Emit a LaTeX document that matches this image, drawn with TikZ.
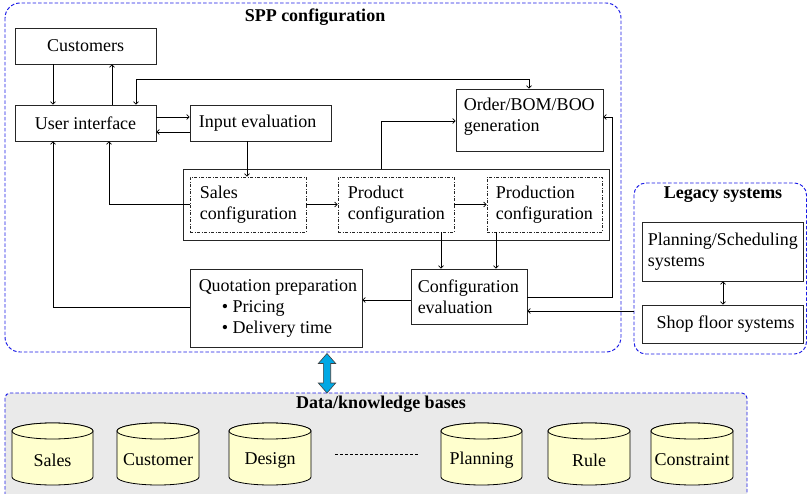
\documentclass[tikz,border=0pt]{standalone}
\usepackage{fontspec}
\setmainfont{Liberation Serif}
\usetikzlibrary{arrows.meta,fit}
\definecolor{frameblue}{RGB}{25,25,230}
\definecolor{dbfill}{RGB}{255,255,206}
\definecolor{bggray}{RGB}{234,234,234}
\definecolor{arrcyan}{RGB}{0,168,228}
\tikzset{
  box/.style={draw=black!85,line width=0.9pt,inner sep=0pt,rectangle},
  dbox/.style={draw=black!85,line width=0.8pt,inner sep=0pt,rectangle,dash pattern=on 3pt off 1.6pt on 0.8pt off 1.6pt},
  txt/.style={inner sep=0pt,align=left,font=\fontsize{18}{21}\selectfont},
  ttl/.style={inner sep=0pt,font=\fontsize{18}{21}\selectfont\bfseries},
  frame/.style={draw=frameblue,line width=0.95pt,dash pattern=on 3.5pt off 2pt},
  conn/.style={draw=black,line width=0.7pt},
  arr/.style={conn,-{Straight Barb[length=2.5pt,width=5pt]}},
  darr/.style={conn,{Straight Barb[length=2.5pt,width=5pt]}-{Straight Barb[length=2.5pt,width=5pt]}},
  cyl/.style={draw=black,line width=0.8pt,fill=dbfill},
}
\begin{document}
\begin{tikzpicture}[x=1pt,y=-1pt]
\clip (0,0) rectangle (808,494);
% frames
\draw[frame] (5,3) [rounded corners=15pt] rectangle (621,352);
\node[ttl] (sppT) at (315,17) {SPP configuration};
\draw[frame] (634,183) [rounded corners=12pt] rectangle (806.5,354);
\node[ttl] (legT) at (723,195) {Legacy systems};
\draw[frame,fill=bggray] (5,393) [rounded corners=5pt] rectangle (747,500);
\node[ttl] (dataT) at (381,404) {Data/knowledge bases};

% boxes
\node[box,fit={(15,28)(156,64)}] (cust) {};
\node[txt] (custT) at (cust.center) {Customers};
\node[box,fit={(15,105)(156,141)}] (ui) {};
\node[txt] (uiT) at (ui.center) {User interface};
\node[box,fit={(190,105)(331,141)}] (inp) {};
\node[txt] (inpT) at ([xshift=-3]inp.center) {Input evaluation};
\node[box,fit={(456,89)(603,151)}] (order) {};
\node[txt,anchor=west] (orderT) at ([xshift=8,yshift=3]order.west) {Order/BOM/BOO\\generation};
\node[box,fit={(183,169)(609,240)}] (cont) {};
\node[dbox,fit={(190,177)(306,232)}] (sales) {};
\node[txt,anchor=west] (salesT) at ([xshift=10]sales.west) {Sales\\configuration};
\node[dbox,fit={(338,177)(454,232)}] (prod) {};
\node[txt,anchor=west] (prodT) at ([xshift=10]prod.west) {Product\\configuration};
\node[dbox,fit={(487,177)(602,232)}] (pron) {};
\node[txt,anchor=west] (pronT) at ([xshift=9]pron.west) {Production\\configuration};
\node[box,fit={(190,269)(362,347)}] (quot) {};
\node[txt,anchor=west] (quotT) at ([xshift=9]quot.west) {Quotation preparation\\\hspace*{23pt}\textbullet\ Pricing\\\hspace*{23pt}\textbullet\ Delivery time};
\node[box,fit={(411,269)(527,324)}] (ceval) {};
\node[txt,anchor=west] (cevalT) at ([xshift=7]ceval.west) {Configuration\\evaluation};
\node[box,fit={(642,222)(803,281)}] (plan) {};
\node[txt,anchor=west] (planT) at ([xshift=6]plan.west) {Planning/Scheduling\\systems};
\node[box,fit={(642,305)(803,343)}] (shop) {};
\node[txt] (shopT) at ([xshift=3]shop.center) {Shop floor systems};

% connectors
\draw[arr] (53,0 |- cust.south) -- (53,0 |- ui.north);
\draw[arr] (112,0 |- ui.north) -- (112,0 |- cust.south);
\draw[arr] (ui.east |- 0,117) -- (inp.west |- 0,117);
\draw[arr] (inp.west |- 0,132) -- (ui.east |- 0,132);
\draw[darr] (529,0 |- order.north) -- (529,79) -- (136,79) -- (136,0 |- ui.north);
\draw[arr] (247,0 |- inp.south) -- (247,0 |- sales.north);
\draw[arr] (sales.west) -- (109,0 |- sales.west) -- (109,0 |- ui.south);
\draw[arr] (sales.east) -- (prod.west);
\draw[arr] (prod.east) -- (pron.west);
\draw[arr] (381,0 |- cont.north) -- (381,121) -- (order.west |- 0,121);
\draw[arr] (441,0 |- prod.south) -- (441,0 |- ceval.north);
\draw[arr] (496,0 |- pron.south) -- (496,0 |- ceval.north);
\draw[arr] (ceval.west |- 0,300) -- (quot.east |- 0,300);
\draw[arr] (quot.west |- 0,307) -- (53,307) -- (53,0 |- ui.south);
\draw[arr] (ceval.east |- 0,297) -- (612,297) -- (612,117) -- (order.east |- 0,117);
\coordinate (legin) at (634,311);
\draw[arr] (legin) -- (ceval.east |- legin);
\draw[darr] (723,0 |- plan.south) -- (723,0 |- shop.north);

% big double arrow
\draw[draw=black!75,line width=0.6pt,fill=arrcyan] (327,353.5) -- (335.7,363.5) -- (330.7,363.5) -- (330.7,383) -- (335.7,383) -- (327,393) -- (318.3,383) -- (323.3,383) -- (323.3,363.5) -- (318.3,363.5) -- cycle;

% cylinders
\foreach \a/\b/\nm/\lab in {12/93/dbs/Sales,117/199/dbc/Customer,229/311/dbd/Design,441/522/dbp/Planning,548/630/dbr/Rule,651/733/dbk/Constraint}{
  \pgfmathsetmacro\rx{(\b-\a)/2}
  \pgfmathsetmacro\cx{(\b+\a)/2}
  \path[cyl] (\a,431) -- (\a,477) arc[start angle=180,end angle=360,x radius=\rx,y radius=-8] -- (\b,431) arc[start angle=0,end angle=180,x radius=\rx,y radius=-8] -- cycle;
  \draw[cyl] (\cx,431) ellipse[x radius=\rx,y radius=8];
  \node[txt] (\nm) at (\cx,460) {\lab};
}
\draw[conn,dashed,dash pattern=on 3pt off 2pt] (335,454) -- (418,454);
\end{tikzpicture}
\end{document}
